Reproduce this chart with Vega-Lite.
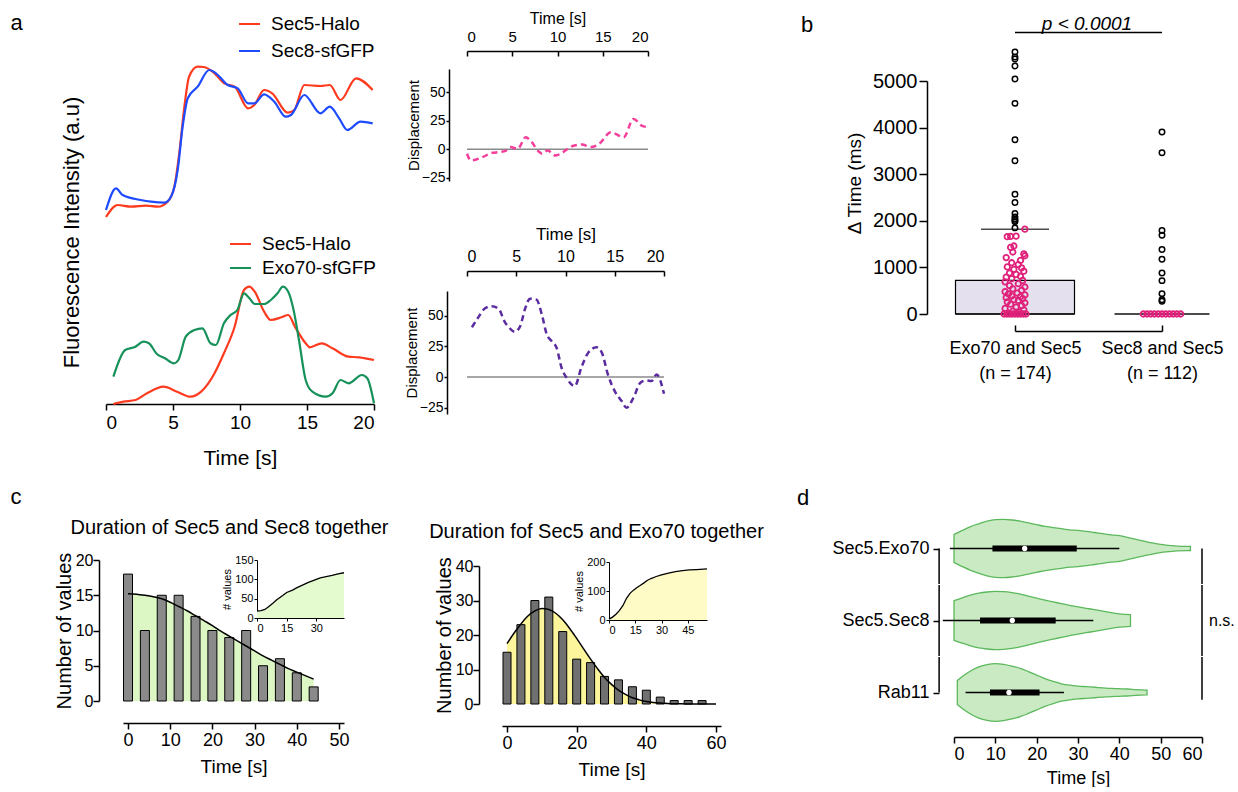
{
"$schema":"https://vega.github.io/schema/vega-lite/v6.json",
"padding":{"left":10,"top":10,"right":0,"bottom":0},
"config":{"font":"Liberation Sans","view":{"stroke":null},
 "axis":{"grid":false,"labelOverlap":false,"domainColor":"#000","tickColor":"#000","labelColor":"#000","titleColor":"#000","titleFontWeight":"normal","domainWidth":1.5,"tickWidth":1.5,"labelFont":"Liberation Sans","titleFont":"Liberation Sans"},
 "title":{"fontWeight":"normal","color":"#000","font":"Liberation Sans"},
 "legend":{"labelFont":"Liberation Sans","labelColor":"#000"}},
"datasets":{
 "viol":[
{"g":"Sec5.Exo70","t":0,"w":0.48,"lo":-0.48},{"g":"Sec5.Exo70","t":2,"w":0.62,"lo":-0.62},{"g":"Sec5.Exo70","t":4,"w":0.75,"lo":-0.75},{"g":"Sec5.Exo70","t":6,"w":0.85,"lo":-0.85},{"g":"Sec5.Exo70","t":8,"w":0.94,"lo":-0.94},{"g":"Sec5.Exo70","t":10,"w":0.99,"lo":-0.99},{"g":"Sec5.Exo70","t":12,"w":1.0,"lo":-1.0},{"g":"Sec5.Exo70","t":14,"w":0.98,"lo":-0.98},{"g":"Sec5.Exo70","t":16,"w":0.94,"lo":-0.94},{"g":"Sec5.Exo70","t":18,"w":0.88,"lo":-0.88},{"g":"Sec5.Exo70","t":20,"w":0.82,"lo":-0.82},{"g":"Sec5.Exo70","t":22,"w":0.76,"lo":-0.76},{"g":"Sec5.Exo70","t":24,"w":0.72,"lo":-0.72},{"g":"Sec5.Exo70","t":26,"w":0.68,"lo":-0.68},{"g":"Sec5.Exo70","t":28,"w":0.64,"lo":-0.64},{"g":"Sec5.Exo70","t":30,"w":0.62,"lo":-0.62},{"g":"Sec5.Exo70","t":32,"w":0.59,"lo":-0.59},{"g":"Sec5.Exo70","t":34,"w":0.55,"lo":-0.55},{"g":"Sec5.Exo70","t":36,"w":0.51,"lo":-0.51},{"g":"Sec5.Exo70","t":38,"w":0.47,"lo":-0.47},{"g":"Sec5.Exo70","t":40,"w":0.44,"lo":-0.44},{"g":"Sec5.Exo70","t":42,"w":0.38,"lo":-0.38},{"g":"Sec5.Exo70","t":44,"w":0.31,"lo":-0.31},{"g":"Sec5.Exo70","t":46,"w":0.25,"lo":-0.25},{"g":"Sec5.Exo70","t":48,"w":0.19,"lo":-0.19},{"g":"Sec5.Exo70","t":50,"w":0.14,"lo":-0.14},{"g":"Sec5.Exo70","t":52,"w":0.11,"lo":-0.11},{"g":"Sec5.Exo70","t":54,"w":0.08,"lo":-0.08},{"g":"Sec5.Exo70","t":56,"w":0.07,"lo":-0.07},{"g":"Sec5.Exo70","t":57.2,"w":0.07,"lo":-0.07},
{"g":"Sec5.Sec8","t":0,"w":0.68,"lo":-0.68},{"g":"Sec5.Sec8","t":2,"w":0.78,"lo":-0.78},{"g":"Sec5.Sec8","t":4,"w":0.87,"lo":-0.87},{"g":"Sec5.Sec8","t":6,"w":0.94,"lo":-0.94},{"g":"Sec5.Sec8","t":8,"w":0.98,"lo":-0.98},{"g":"Sec5.Sec8","t":10,"w":1.0,"lo":-1.0},{"g":"Sec5.Sec8","t":12,"w":0.99,"lo":-0.99},{"g":"Sec5.Sec8","t":14,"w":0.96,"lo":-0.96},{"g":"Sec5.Sec8","t":16,"w":0.91,"lo":-0.91},{"g":"Sec5.Sec8","t":18,"w":0.84,"lo":-0.84},{"g":"Sec5.Sec8","t":20,"w":0.77,"lo":-0.77},{"g":"Sec5.Sec8","t":22,"w":0.70,"lo":-0.70},{"g":"Sec5.Sec8","t":24,"w":0.64,"lo":-0.64},{"g":"Sec5.Sec8","t":26,"w":0.58,"lo":-0.58},{"g":"Sec5.Sec8","t":28,"w":0.52,"lo":-0.52},{"g":"Sec5.Sec8","t":30,"w":0.47,"lo":-0.47},{"g":"Sec5.Sec8","t":32,"w":0.42,"lo":-0.42},{"g":"Sec5.Sec8","t":34,"w":0.37,"lo":-0.37},{"g":"Sec5.Sec8","t":36,"w":0.32,"lo":-0.32},{"g":"Sec5.Sec8","t":38,"w":0.27,"lo":-0.27},{"g":"Sec5.Sec8","t":40,"w":0.23,"lo":-0.23},{"g":"Sec5.Sec8","t":42.7,"w":0.2,"lo":-0.2},
{"g":"Rab11","t":0.8,"w":0.41,"lo":-0.41},{"g":"Rab11","t":2,"w":0.55,"lo":-0.55},{"g":"Rab11","t":4,"w":0.74,"lo":-0.74},{"g":"Rab11","t":6,"w":0.88,"lo":-0.88},{"g":"Rab11","t":8,"w":0.96,"lo":-0.96},{"g":"Rab11","t":10,"w":0.99,"lo":-0.99},{"g":"Rab11","t":12,"w":0.97,"lo":-0.97},{"g":"Rab11","t":14,"w":0.91,"lo":-0.91},{"g":"Rab11","t":16,"w":0.83,"lo":-0.83},{"g":"Rab11","t":18,"w":0.72,"lo":-0.72},{"g":"Rab11","t":20,"w":0.60,"lo":-0.60},{"g":"Rab11","t":22,"w":0.48,"lo":-0.48},{"g":"Rab11","t":24,"w":0.38,"lo":-0.38},{"g":"Rab11","t":26,"w":0.30,"lo":-0.30},{"g":"Rab11","t":28,"w":0.25,"lo":-0.25},{"g":"Rab11","t":30,"w":0.22,"lo":-0.22},{"g":"Rab11","t":32,"w":0.20,"lo":-0.20},{"g":"Rab11","t":34,"w":0.18,"lo":-0.18},{"g":"Rab11","t":36,"w":0.16,"lo":-0.16},{"g":"Rab11","t":38,"w":0.14,"lo":-0.14},{"g":"Rab11","t":40,"w":0.13,"lo":-0.13},{"g":"Rab11","t":42,"w":0.12,"lo":-0.12},{"g":"Rab11","t":44,"w":0.10,"lo":-0.10},{"g":"Rab11","t":46.7,"w":0.08,"lo":-0.08}],
 "dstat":[
{"g":"Sec5.Exo70","mn":-1,"q1":9.3,"md":17.1,"q3":29.7,"mx":40},
{"g":"Sec5.Sec8","mn":-2.7,"q1":6.3,"md":14.1,"q3":24.6,"mx":33.7},
{"g":"Rab11","mn":2.8,"q1":8.7,"md":13.3,"q3":20.7,"mx":26.6}],
 "fit1":[{"x":0,"f":15.2},{"x":2,"f":15.15},{"x":4,"f":15.0},{"x":6,"f":14.8},{"x":8,"f":14.5},{"x":10,"f":14.0},{"x":12,"f":13.4},{"x":14,"f":12.8},{"x":16,"f":12.1},{"x":18,"f":11.4},{"x":20,"f":10.7},{"x":22,"f":9.9},{"x":24,"f":9.2},{"x":26,"f":8.5},{"x":28,"f":7.8},{"x":30,"f":7.1},{"x":32,"f":6.4},{"x":34,"f":5.8},{"x":36,"f":5.2},{"x":38,"f":4.6},{"x":40,"f":4.1},{"x":42,"f":3.6},{"x":44,"f":3.1}],
 "fit2":[{"x":0,"f":17.5},{"x":2,"f":20.5},{"x":4,"f":23.2},{"x":6,"f":25.5},{"x":8,"f":27.0},{"x":10,"f":27.7},{"x":12,"f":27.4},{"x":14,"f":26.3},{"x":16,"f":24.4},{"x":18,"f":21.9},{"x":20,"f":19.0},{"x":22,"f":16.0},{"x":24,"f":13.0},{"x":26,"f":10.2},{"x":28,"f":7.7},{"x":30,"f":5.7},{"x":32,"f":4.0},{"x":34,"f":2.8},{"x":36,"f":1.8},{"x":38,"f":1.2},{"x":40,"f":0.74},{"x":42,"f":0.44},{"x":44,"f":0.26},{"x":46,"f":0.15},{"x":48,"f":0.08},{"x":50,"f":0.04},{"x":54,"f":0.01},{"x":60,"f":0}]
},
"spacing":17,
"resolve":{"scale":{"color":"independent"}},
"vconcat":[
{"spacing":37,"resolve":{"scale":{"color":"independent"}},"hconcat":[
 {"width":1,"height":1,"data":{"values":[{"l":"a"}]},"mark":{"type":"text","align":"left","baseline":"top","fontSize":22,"color":"#000"},"encoding":{"text":{"field":"l","type":"nominal"}}},
 {"spacing":25,"resolve":{"scale":{"color":"independent"}},"hconcat":[
  {"spacing":-1,"resolve":{"scale":{"color":"independent"}},"vconcat":[
   {"width":1,"height":1,"data":{"values":[{}]},"mark":{"type":"point","opacity":0,"size":1},"encoding":{}},
   {"width":268,"height":344,
    "layer":[
     {"data":{"values":[
{"t":0,"v":187,"s":"Sec5-Halo"},{"t":0.87,"v":199,"s":"Sec5-Halo"},{"t":1.87,"v":197.3,"s":"Sec5-Halo"},{"t":3.0,"v":198.3,"s":"Sec5-Halo"},{"t":3.86,"v":197.3,"s":"Sec5-Halo"},{"t":4.6,"v":202.3,"s":"Sec5-Halo"},{"t":5.1,"v":217.3,"s":"Sec5-Halo"},{"t":5.47,"v":251,"s":"Sec5-Halo"},{"t":5.85,"v":297.3,"s":"Sec5-Halo"},{"t":6.2,"v":327.3,"s":"Sec5-Halo"},{"t":6.84,"v":337.3,"s":"Sec5-Halo"},{"t":7.3,"v":337,"s":"Sec5-Halo"},{"t":8.1,"v":330.7,"s":"Sec5-Halo"},{"t":8.83,"v":320.7,"s":"Sec5-Halo"},{"t":9.6,"v":317.3,"s":"Sec5-Halo"},{"t":10.6,"v":295.7,"s":"Sec5-Halo"},{"t":11.07,"v":299,"s":"Sec5-Halo"},{"t":11.8,"v":314,"s":"Sec5-Halo"},{"t":12.4,"v":310.7,"s":"Sec5-Halo"},{"t":13.56,"v":291.3,"s":"Sec5-Halo"},{"t":14.05,"v":294,"s":"Sec5-Halo"},{"t":14.8,"v":319,"s":"Sec5-Halo"},{"t":16.0,"v":318,"s":"Sec5-Halo"},{"t":16.7,"v":319,"s":"Sec5-Halo"},{"t":17.5,"v":304,"s":"Sec5-Halo"},{"t":18.66,"v":325.7,"s":"Sec5-Halo"},{"t":19.9,"v":314,"s":"Sec5-Halo"},
{"t":0,"v":194,"s":"Sec8-sfGFP"},{"t":0.75,"v":215.7,"s":"Sec8-sfGFP"},{"t":1.24,"v":209,"s":"Sec8-sfGFP"},{"t":2.6,"v":204,"s":"Sec8-sfGFP"},{"t":3.36,"v":202.3,"s":"Sec8-sfGFP"},{"t":4.35,"v":201.3,"s":"Sec8-sfGFP"},{"t":4.85,"v":207.3,"s":"Sec8-sfGFP"},{"t":5.35,"v":234,"s":"Sec8-sfGFP"},{"t":5.72,"v":277.3,"s":"Sec8-sfGFP"},{"t":6.1,"v":305.7,"s":"Sec8-sfGFP"},{"t":6.84,"v":317.3,"s":"Sec8-sfGFP"},{"t":7.7,"v":334,"s":"Sec8-sfGFP"},{"t":8.2,"v":330.7,"s":"Sec8-sfGFP"},{"t":9.08,"v":319,"s":"Sec8-sfGFP"},{"t":9.83,"v":315.7,"s":"Sec8-sfGFP"},{"t":10.6,"v":300.7,"s":"Sec8-sfGFP"},{"t":11.07,"v":300.7,"s":"Sec8-sfGFP"},{"t":11.8,"v":309.7,"s":"Sec8-sfGFP"},{"t":12.56,"v":302.3,"s":"Sec8-sfGFP"},{"t":13.4,"v":287.3,"s":"Sec8-sfGFP"},{"t":13.8,"v":289,"s":"Sec8-sfGFP"},{"t":14.8,"v":309,"s":"Sec8-sfGFP"},{"t":16.0,"v":290.7,"s":"Sec8-sfGFP"},{"t":16.7,"v":297.3,"s":"Sec8-sfGFP"},{"t":17.4,"v":285.7,"s":"Sec8-sfGFP"},{"t":18.0,"v":274,"s":"Sec8-sfGFP"},{"t":19.0,"v":282.3,"s":"Sec8-sfGFP"},{"t":19.9,"v":280.7,"s":"Sec8-sfGFP"}]},
      "mark":{"type":"line","interpolate":"monotone","strokeWidth":2.2},
      "encoding":{
       "x":{"field":"t","type":"quantitative","scale":{"domain":[0,20],"nice":false},"axis":{"values":[0,5,10,15,20],"tickSize":6,"labelFontSize":19,"labelPadding":3,"title":"Time [s]","titleFontSize":21,"titlePadding":15}},
       "y":{"field":"v","type":"quantitative","scale":{"domain":[0,344],"nice":false},"axis":{"title":"Fluorescence Intensity (a.u)","titleFontSize":22,"domain":false,"ticks":false,"labels":false,"titlePadding":23}},
       "color":{"field":"s","type":"nominal","scale":{"domain":["Sec5-Halo","Sec8-sfGFP"],"range":["#ff3b1f","#1f4bff"]},"legend":{"title":null,"orient":"none","legendX":132,"legendY":-47.5,"symbolType":"stroke","symbolSize":441,"symbolStrokeWidth":2,"labelFontSize":19,"labelOffset":10,"rowPadding":5,"padding":0}}}},
     {"data":{"values":[
{"t":0.55,"v":0,"s":"Sec5-Halo"},{"t":1.3,"v":2.3,"s":"Sec5-Halo"},{"t":2.2,"v":4,"s":"Sec5-Halo"},{"t":3.06,"v":10.7,"s":"Sec5-Halo"},{"t":4.3,"v":17.3,"s":"Sec5-Halo"},{"t":5.3,"v":12.3,"s":"Sec5-Halo"},{"t":6.3,"v":7.3,"s":"Sec5-Halo"},{"t":7.1,"v":12.3,"s":"Sec5-Halo"},{"t":8.1,"v":30.7,"s":"Sec5-Halo"},{"t":8.8,"v":50.7,"s":"Sec5-Halo"},{"t":9.6,"v":77.3,"s":"Sec5-Halo"},{"t":10.3,"v":114,"s":"Sec5-Halo"},{"t":10.7,"v":117.3,"s":"Sec5-Halo"},{"t":11.1,"v":112.3,"s":"Sec5-Halo"},{"t":11.8,"v":92.3,"s":"Sec5-Halo"},{"t":12.3,"v":84,"s":"Sec5-Halo"},{"t":13.1,"v":86.7,"s":"Sec5-Halo"},{"t":13.6,"v":89,"s":"Sec5-Halo"},{"t":14.1,"v":77.3,"s":"Sec5-Halo"},{"t":14.9,"v":60.7,"s":"Sec5-Halo"},{"t":15.2,"v":56.7,"s":"Sec5-Halo"},{"t":16.1,"v":60.7,"s":"Sec5-Halo"},{"t":16.9,"v":55.7,"s":"Sec5-Halo"},{"t":18.1,"v":47.3,"s":"Sec5-Halo"},{"t":18.9,"v":46.7,"s":"Sec5-Halo"},{"t":20,"v":44,"s":"Sec5-Halo"},
{"t":0.55,"v":27.3,"s":"Exo70-sfGFP"},{"t":1.43,"v":54,"s":"Exo70-sfGFP"},{"t":2.2,"v":57.3,"s":"Exo70-sfGFP"},{"t":2.8,"v":62.3,"s":"Exo70-sfGFP"},{"t":3.2,"v":60.7,"s":"Exo70-sfGFP"},{"t":3.8,"v":50,"s":"Exo70-sfGFP"},{"t":4.4,"v":45.7,"s":"Exo70-sfGFP"},{"t":5.07,"v":40.7,"s":"Exo70-sfGFP"},{"t":5.4,"v":44,"s":"Exo70-sfGFP"},{"t":5.95,"v":67.3,"s":"Exo70-sfGFP"},{"t":6.6,"v":74,"s":"Exo70-sfGFP"},{"t":7.2,"v":75.7,"s":"Exo70-sfGFP"},{"t":7.8,"v":60.7,"s":"Exo70-sfGFP"},{"t":8.2,"v":59,"s":"Exo70-sfGFP"},{"t":8.8,"v":80.7,"s":"Exo70-sfGFP"},{"t":9.3,"v":89,"s":"Exo70-sfGFP"},{"t":9.8,"v":94,"s":"Exo70-sfGFP"},{"t":10.3,"v":110.7,"s":"Exo70-sfGFP"},{"t":10.7,"v":105.7,"s":"Exo70-sfGFP"},{"t":11.1,"v":100,"s":"Exo70-sfGFP"},{"t":11.8,"v":100,"s":"Exo70-sfGFP"},{"t":12.3,"v":104,"s":"Exo70-sfGFP"},{"t":12.8,"v":110.7,"s":"Exo70-sfGFP"},{"t":13.2,"v":117.3,"s":"Exo70-sfGFP"},{"t":13.6,"v":112.3,"s":"Exo70-sfGFP"},{"t":14.0,"v":94,"s":"Exo70-sfGFP"},{"t":14.4,"v":64,"s":"Exo70-sfGFP"},{"t":14.9,"v":24,"s":"Exo70-sfGFP"},{"t":15.4,"v":12.3,"s":"Exo70-sfGFP"},{"t":16.4,"v":7.3,"s":"Exo70-sfGFP"},{"t":16.9,"v":10.7,"s":"Exo70-sfGFP"},{"t":17.5,"v":24,"s":"Exo70-sfGFP"},{"t":18.1,"v":20.7,"s":"Exo70-sfGFP"},{"t":19.1,"v":29,"s":"Exo70-sfGFP"},{"t":19.5,"v":25.7,"s":"Exo70-sfGFP"},{"t":20,"v":0.7,"s":"Exo70-sfGFP"}]},
      "mark":{"type":"line","interpolate":"monotone","strokeWidth":2.2},
      "encoding":{
       "x":{"field":"t","type":"quantitative"},
       "y":{"field":"v","type":"quantitative"},
       "color":{"field":"s","type":"nominal","scale":{"domain":["Sec5-Halo","Exo70-sfGFP"],"range":["#ff3b1f","#16915a"]},"legend":{"title":null,"orient":"none","legendX":123,"legendY":172.5,"symbolType":"stroke","symbolSize":441,"symbolStrokeWidth":2,"labelFontSize":19,"labelOffset":10,"rowPadding":2,"padding":0}}}}
    ],
    "resolve":{"scale":{"color":"independent"}}}
  ]},
  {"spacing":132,"hconcat":[
   {"spacing":-3,"vconcat":[
    {"width":1,"height":1,"data":{"values":[{}]},"mark":{"type":"point","opacity":0,"size":1},"encoding":{}},
    {"spacing":40,"vconcat":[
     {"width":181,"height":112,
      "layer":[
       {"data":{"values":[{}]},"mark":{"type":"rule","color":"#8a8a8a","strokeWidth":1.5},"encoding":{"x":{"datum":0},"x2":{"datum":20},"y":{"datum":0,"axis":{"orient":"left","offset":18,"values":[0,50],"domain":false,"tickSize":3,"labelFontSize":14,"labelPadding":1,"title":null}}}},
       {"data":{"values":[{"t":0,"d":-4},{"t":0.44,"d":-10},{"t":1.7,"d":-7},{"t":2.8,"d":-3.2},{"t":3.6,"d":-2.6},{"t":4.3,"d":-1.2},{"t":4.8,"d":1.8},{"t":5.6,"d":0.3},{"t":6.5,"d":10.5},{"t":7.0,"d":7.6},{"t":8.0,"d":-2.6},{"t":8.3,"d":-4},{"t":8.9,"d":-1.2},{"t":9.8,"d":-5.6},{"t":10.5,"d":-3.2},{"t":11.6,"d":2.6},{"t":12.7,"d":4.1},{"t":13.7,"d":1.8},{"t":14.6,"d":4.7},{"t":15.9,"d":14.9},{"t":16.4,"d":13.5},{"t":17.3,"d":10.5},{"t":18.4,"d":26.6},{"t":19.3,"d":20.8},{"t":20,"d":19.3}]},
        "mark":{"type":"line","interpolate":"monotone","strokeDash":[6,4],"strokeWidth":2.5,"color":"#f23f9b"},
        "encoding":{
         "x":{"field":"t","type":"quantitative","scale":{"domain":[0,20],"nice":false},"axis":{"orient":"top","offset":18,"values":[0,2.5,5,7.5,10,12.5,15,17.5,20],"labelExpr":"datum.value % 5 == 0 ? datum.label : ''","tickSize":-5,"labelPadding":12,"labelFontSize":15,"title":"Time [s]","titleFontSize":16,"titlePadding":3}},
         "y":{"field":"d","type":"quantitative","scale":{"domain":[-28,70.5],"nice":false},"axis":{"orient":"left","offset":18,"values":[-25,25],"tickSize":3,"labelFontSize":14,"labelPadding":1,"title":"Displacement","titleFontSize":15,"titlePadding":0}}}}
      ],
      "resolve":{"axis":{"y":"independent"}}},
     {"width":197,"height":123,
      "layer":[
       {"data":{"values":[{}]},"mark":{"type":"rule","color":"#8a8a8a","strokeWidth":1.5},"encoding":{"x":{"datum":0},"x2":{"datum":20},"y":{"datum":0}}},
       {"data":{"values":[{"t":0.5,"d":40.5},{"t":1.1,"d":48},{"t":1.8,"d":55.7},{"t":2.5,"d":57.6},{"t":3.2,"d":55.7},{"t":3.8,"d":45.4},{"t":4.3,"d":40},{"t":4.85,"d":36.8},{"t":5.4,"d":41.4},{"t":5.9,"d":55.7},{"t":6.4,"d":63.8},{"t":7.05,"d":63},{"t":7.6,"d":50.8},{"t":8.1,"d":34.6},{"t":8.6,"d":29.2},{"t":9.1,"d":23.8},{"t":9.6,"d":7.6},{"t":10.1,"d":-0.5},{"t":10.95,"d":-7.3},{"t":11.6,"d":7.6},{"t":12.3,"d":19.7},{"t":13.15,"d":24.3},{"t":13.7,"d":19.7},{"t":14.3,"d":2.2},{"t":15.0,"d":-11.4},{"t":15.7,"d":-19.5},{"t":16.2,"d":-24.9},{"t":16.9,"d":-16.8},{"t":17.6,"d":-4.6},{"t":18.2,"d":-2.7},{"t":18.75,"d":-3.2},{"t":19.25,"d":2.2},{"t":20,"d":-13.5}]},
        "mark":{"type":"line","interpolate":"monotone","strokeDash":[6,4],"strokeWidth":2.5,"color":"#5a2ca0"},
        "encoding":{
         "x":{"field":"t","type":"quantitative","scale":{"domain":[0,20],"nice":false},"axis":{"orient":"top","offset":20,"values":[0,2.5,5,7.5,10,12.5,15,17.5,20],"labelExpr":"datum.value % 5 == 0 ? datum.label : ''","tickSize":-5,"labelPadding":12,"labelFontSize":16,"title":"Time [s]","titleFontSize":17,"titlePadding":5}},
         "y":{"field":"d","type":"quantitative","scale":{"domain":[-30,70],"nice":false},"axis":{"offset":20,"values":[-25,0,25,50],"tickSize":3,"labelFontSize":14,"labelPadding":1,"title":"Displacement","titleFontSize":15,"titlePadding":0}}}}
      ]}
    ]}
   ]},
   {"spacing":0,"vconcat":[
    {"width":1,"height":1,"data":{"values":[{}]},"mark":{"type":"point","opacity":0,"size":1},"encoding":{}},
    {"title":{"text":"b","orient":"left","anchor":"end","angle":0,"align":"right","baseline":"top","fontSize":22,"offset":20},
     "hconcat":[
     {"width":290,"height":233,
      "title":{"text":"p < 0.0001","fontStyle":"italic","fontSize":19,"anchor":"middle","frame":"group","dx":15,"offset":-2},
      "layer":[
       {"data":{"values":[{"cat":"Exo70 and Sec5","q1":0,"q3":720}]},
        "mark":{"type":"bar","size":119,"fill":"#e4e0ee","stroke":"#000","strokeWidth":1.2},
        "encoding":{
         "x":{"field":"cat","type":"nominal","scale":{"type":"point","padding":0,"domain":["Exo70 and Sec5","Sec8 and Sec5"],"range":[88,235]},"axis":{"orient":"bottom","offset":17,"tickSize":-6,"labelFontSize":18,"labelLineHeight":25,"labelPadding":14,"labelAngle":0,"title":null,"labelExpr":"datum.value == 'Exo70 and Sec5' ? ['Exo70 and Sec5', '(n = 174)'] : ['Sec8 and Sec5', '(n = 112)']"}},
         "y":{"field":"q1","type":"quantitative","scale":{"domain":[0,5000],"nice":false},"axis":{"values":[0,1000,2000,3000,4000,5000],"format":"d","tickSize":8,"labelFontSize":20,"labelPadding":2,"title":"Δ Time (ms)","titleFontSize":19,"titlePadding":8,"titleY":102}},
         "y2":{"field":"q3"}}},
       {"data":{"values":[{}]},"mark":{"type":"rule","strokeWidth":1.5,"color":"#000"},"encoding":{"x":{"datum":"Exo70 and Sec5"},"x2":{"datum":"Sec8 and Sec5"},"y":{"datum":6040}}},
       {"data":{"values":[{"cat":"Exo70 and Sec5","w":1820}]},"mark":{"type":"tick","size":68,"thickness":1.5,"color":"#000"},"encoding":{"x":{"field":"cat","type":"nominal"},"y":{"field":"w","type":"quantitative"}}},
       {"data":{"values":[{"cat":"Exo70 and Sec5","m":0}]},"mark":{"type":"tick","size":119,"thickness":2,"color":"#000"},"encoding":{"x":{"field":"cat","type":"nominal"},"y":{"field":"m","type":"quantitative"}}},
       {"data":{"values":[{"cat":"Sec8 and Sec5","m":0}]},"mark":{"type":"tick","size":95,"thickness":2,"color":"#000"},"encoding":{"x":{"field":"cat","type":"nominal"},"y":{"field":"m","type":"quantitative"}}},
       {"data":{"values":[
{"cat":"Exo70 and Sec5","v":0,"j":-1},{"cat":"Exo70 and Sec5","v":0,"j":-0.75},{"cat":"Exo70 and Sec5","v":0,"j":-0.5},{"cat":"Exo70 and Sec5","v":0,"j":-0.25},{"cat":"Exo70 and Sec5","v":0,"j":0},{"cat":"Exo70 and Sec5","v":0,"j":0.25},{"cat":"Exo70 and Sec5","v":0,"j":0.5},{"cat":"Exo70 and Sec5","v":0,"j":0.75},{"cat":"Exo70 and Sec5","v":0,"j":1},
{"cat":"Exo70 and Sec5","v":20,"j":-0.6},{"cat":"Exo70 and Sec5","v":40,"j":0.4},{"cat":"Exo70 and Sec5","v":60,"j":-0.2},{"cat":"Exo70 and Sec5","v":90,"j":0.8},{"cat":"Exo70 and Sec5","v":120,"j":-0.9},{"cat":"Exo70 and Sec5","v":150,"j":0.1},{"cat":"Exo70 and Sec5","v":180,"j":0.6},{"cat":"Exo70 and Sec5","v":210,"j":-0.4},{"cat":"Exo70 and Sec5","v":240,"j":0.9},{"cat":"Exo70 and Sec5","v":260,"j":-0.7},{"cat":"Exo70 and Sec5","v":290,"j":0.3},{"cat":"Exo70 and Sec5","v":310,"j":-0.1},{"cat":"Exo70 and Sec5","v":330,"j":0.7},{"cat":"Exo70 and Sec5","v":350,"j":-0.8},{"cat":"Exo70 and Sec5","v":370,"j":0.5},{"cat":"Exo70 and Sec5","v":390,"j":-0.3},{"cat":"Exo70 and Sec5","v":410,"j":0.9},{"cat":"Exo70 and Sec5","v":430,"j":-0.6},{"cat":"Exo70 and Sec5","v":450,"j":0.2},{"cat":"Exo70 and Sec5","v":480,"j":-0.9},{"cat":"Exo70 and Sec5","v":510,"j":0.6},{"cat":"Exo70 and Sec5","v":540,"j":-0.2},{"cat":"Exo70 and Sec5","v":580,"j":0.9},{"cat":"Exo70 and Sec5","v":610,"j":-0.5},{"cat":"Exo70 and Sec5","v":650,"j":0.3},{"cat":"Exo70 and Sec5","v":690,"j":-0.9},{"cat":"Exo70 and Sec5","v":720,"j":0.7},{"cat":"Exo70 and Sec5","v":760,"j":-0.3},{"cat":"Exo70 and Sec5","v":790,"j":-0.8},{"cat":"Exo70 and Sec5","v":810,"j":0.5},{"cat":"Exo70 and Sec5","v":850,"j":0.1},{"cat":"Exo70 and Sec5","v":880,"j":-0.5},{"cat":"Exo70 and Sec5","v":920,"j":0.8},{"cat":"Exo70 and Sec5","v":960,"j":-0.1},{"cat":"Exo70 and Sec5","v":990,"j":0.6},{"cat":"Exo70 and Sec5","v":1010,"j":-0.7},{"cat":"Exo70 and Sec5","v":1060,"j":0.3},{"cat":"Exo70 and Sec5","v":1100,"j":-0.3},{"cat":"Exo70 and Sec5","v":1150,"j":0.5},{"cat":"Exo70 and Sec5","v":1210,"j":-0.8},{"cat":"Exo70 and Sec5","v":1250,"j":0.9},{"cat":"Exo70 and Sec5","v":1290,"j":0.8},{"cat":"Exo70 and Sec5","v":1330,"j":-0.2},{"cat":"Exo70 and Sec5","v":1430,"j":-0.4},{"cat":"Exo70 and Sec5","v":1460,"j":-0.1},{"cat":"Exo70 and Sec5","v":1660,"j":-0.7},{"cat":"Exo70 and Sec5","v":1665,"j":-0.4},{"cat":"Exo70 and Sec5","v":1670,"j":0.1},{"cat":"Exo70 and Sec5","v":1820,"j":0.9},
{"cat":"Sec8 and Sec5","v":0,"j":-1.7},{"cat":"Sec8 and Sec5","v":0,"j":-1.36},{"cat":"Sec8 and Sec5","v":0,"j":-1.02},{"cat":"Sec8 and Sec5","v":0,"j":-0.68},{"cat":"Sec8 and Sec5","v":0,"j":-0.34},{"cat":"Sec8 and Sec5","v":0,"j":0},{"cat":"Sec8 and Sec5","v":0,"j":0.34},{"cat":"Sec8 and Sec5","v":0,"j":0.68},{"cat":"Sec8 and Sec5","v":0,"j":1.02},{"cat":"Sec8 and Sec5","v":0,"j":1.36},{"cat":"Sec8 and Sec5","v":0,"j":1.7}]},
        "mark":{"type":"point","filled":false,"color":"#e0207a","strokeWidth":1.8,"size":30,"opacity":1},
        "encoding":{"x":{"field":"cat","type":"nominal"},"xOffset":{"field":"j","type":"quantitative","scale":{"domain":[-1,1],"range":[-11,11]}},"y":{"field":"v","type":"quantitative"}}},
       {"data":{"values":[
{"cat":"Exo70 and Sec5","v":5623},{"cat":"Exo70 and Sec5","v":5516},{"cat":"Exo70 and Sec5","v":5470},{"cat":"Exo70 and Sec5","v":5322},{"cat":"Exo70 and Sec5","v":5043},{"cat":"Exo70 and Sec5","v":4520},{"cat":"Exo70 and Sec5","v":3739},{"cat":"Exo70 and Sec5","v":3288},{"cat":"Exo70 and Sec5","v":2572},{"cat":"Exo70 and Sec5","v":2393},{"cat":"Exo70 and Sec5","v":2156},{"cat":"Exo70 and Sec5","v":2080},{"cat":"Exo70 and Sec5","v":2040},{"cat":"Exo70 and Sec5","v":2006},{"cat":"Exo70 and Sec5","v":1980},{"cat":"Exo70 and Sec5","v":1848},
{"cat":"Sec8 and Sec5","v":3904},{"cat":"Sec8 and Sec5","v":3460},{"cat":"Sec8 and Sec5","v":1791},{"cat":"Sec8 and Sec5","v":1690},{"cat":"Sec8 and Sec5","v":1383},{"cat":"Sec8 and Sec5","v":1175},{"cat":"Sec8 and Sec5","v":881},{"cat":"Sec8 and Sec5","v":716},{"cat":"Sec8 and Sec5","v":437},{"cat":"Sec8 and Sec5","v":308},{"cat":"Sec8 and Sec5","v":272}]},
        "mark":{"type":"point","filled":false,"color":"#000","strokeWidth":1.5,"size":30,"opacity":1},
        "encoding":{"x":{"field":"cat","type":"nominal"},"y":{"field":"v","type":"quantitative"}}}
      ]}
    ]}
   ]}
  ]}
 ]}
]},
{"spacing":32,"hconcat":[
 {"width":1,"height":1,"data":{"values":[{"l":"c"}]},"mark":{"type":"text","align":"left","baseline":"top","fontSize":22,"color":"#000"},"encoding":{"text":{"field":"l","type":"nominal"}}},
 {"spacing":40,"hconcat":[
  {"spacing":31,"vconcat":[
   {"width":1,"height":1,"data":{"values":[{}]},"mark":{"type":"point","opacity":0,"size":1},"encoding":{}},
   {"width":221,"height":141,
    "title":{"text":"Duration of Sec5 and Sec8 together","fontSize":20,"offset":14,"dx":-4,"anchor":"middle","frame":"group"},
    "layer":[
     {"layer":[
      {"data":{"name":"fit1"},
       "mark":{"type":"area","color":"#dcf7c3","interpolate":"monotone"},
       "encoding":{"x":{"field":"x","type":"quantitative","scale":{"domain":[0,50],"nice":false},"axis":{"offset":22,"values":[0,10,20,30,40,50],"tickSize":6,"labelFontSize":18,"title":"Time [s]","titleFontSize":19,"titlePadding":8}},
        "y":{"field":"f","type":"quantitative","scale":{"domain":[0,20],"nice":false},"axis":{"orient":"left","offset":24,"values":[0,10,20],"tickSize":6,"labelFontSize":16,"labelPadding":0,"title":"Number of values","titleFontSize":20,"titlePadding":1}}}},
      {"data":{"values":[{"t":0,"n":18},{"t":4,"n":10},{"t":8,"n":15},{"t":12,"n":15},{"t":16,"n":12},{"t":20,"n":10},{"t":24,"n":9},{"t":28,"n":10},{"t":32,"n":5},{"t":36,"n":6},{"t":40,"n":4},{"t":44,"n":2}]},
       "mark":{"type":"bar","size":9,"fill":"#8a8a8a","stroke":"#000","strokeWidth":1},
       "encoding":{"x":{"field":"t","type":"quantitative"},"y":{"field":"n","type":"quantitative","axis":{"orient":"left","offset":24,"values":[5,15],"domain":false,"tickSize":6,"labelFontSize":16,"labelPadding":0,"title":null}}}},
      {"data":{"name":"fit1"},
       "mark":{"type":"line","color":"#000","strokeWidth":1.5,"interpolate":"monotone"},
       "encoding":{"x":{"field":"x","type":"quantitative"},"y":{"field":"f","type":"quantitative","axis":null}}}
     ],
     "resolve":{"axis":{"y":"independent"}}},
     {"data":{"values":[{"ct":0,"cv":18},{"ct":2,"cv":19},{"ct":4,"cv":22},{"ct":6,"cv":30},{"ct":8,"cv":38},{"ct":10,"cv":47},{"ct":13,"cv":58},{"ct":15,"cv":66},{"ct":18,"cv":72},{"ct":20,"cv":78},{"ct":23,"cv":85},{"ct":26,"cv":92},{"ct":29,"cv":98},{"ct":32,"cv":104},{"ct":35,"cv":107},{"ct":38,"cv":110},{"ct":41,"cv":114},{"ct":44,"cv":117}]},
      "layer":[
       {"mark":{"type":"area","color":"#e4fbcf"},
        "encoding":{"x":{"field":"ct","type":"quantitative","scale":{"domain":[0,44],"range":[134,221],"nice":false},"axis":{"orient":"bottom","offset":-83,"values":[0,15,30],"labelFontSize":11,"tickSize":3,"tickWidth":1,"domainWidth":1,"labelPadding":1,"title":null}},
         "y":{"field":"cv","type":"quantitative","scale":{"domain":[0,150],"range":[58,0],"nice":false},"axis":{"orient":"left","offset":-134,"values":[0,50,100,150],"labelFontSize":11,"tickSize":3,"tickWidth":1,"domainWidth":1,"labelPadding":1,"title":"# values","titleFontSize":11,"titlePadding":2}}}},
       {"mark":{"type":"line","color":"#000","strokeWidth":1.3},
        "encoding":{"x":{"field":"ct","type":"quantitative"},"y":{"field":"cv","type":"quantitative"}}}
      ]}
    ],
    "resolve":{"scale":{"x":"independent","y":"independent"},"axis":{"x":"independent","y":"independent"}}}
  ]},
  {"spacing":32,"hconcat":[
   {"spacing":35,"vconcat":[
    {"width":1,"height":1,"data":{"values":[{}]},"mark":{"type":"point","opacity":0,"size":1},"encoding":{}},
    {"width":219,"height":138,
     "title":{"text":"Duration fof Sec5 and Exo70 together","fontSize":20,"offset":14,"dx":-15,"anchor":"middle","frame":"group"},
     "layer":[
      {"layer":[
       {"data":{"name":"fit2"},
        "mark":{"type":"area","color":"#fcf59b","interpolate":"monotone"},
        "encoding":{"x":{"field":"x","type":"quantitative","scale":{"domain":[0,60],"nice":false},"axis":{"offset":22,"values":[0,10,20,30,40,50,60],"tickSize":6,"labelFontSize":18,"title":"Time [s]","titleFontSize":19,"titlePadding":8}},
         "y":{"field":"f","type":"quantitative","scale":{"domain":[0,40],"nice":false},"axis":{"orient":"left","offset":23,"values":[0,20,40],"tickSize":6,"labelFontSize":16,"labelPadding":0,"title":"Number of values","titleFontSize":20,"titlePadding":1}}}},
       {"data":{"values":[{"t":0,"n":15},{"t":4,"n":23},{"t":8,"n":30},{"t":12,"n":31},{"t":16,"n":21},{"t":20,"n":13},{"t":24,"n":12},{"t":28,"n":8},{"t":32,"n":7},{"t":36,"n":5},{"t":40,"n":4},{"t":44,"n":2},{"t":48,"n":1},{"t":52,"n":1},{"t":56,"n":1}]},
        "mark":{"type":"bar","size":8,"fill":"#707070","stroke":"#000","strokeWidth":1},
        "encoding":{"x":{"field":"t","type":"quantitative"},"y":{"field":"n","type":"quantitative","axis":{"orient":"left","offset":23,"values":[10,30],"domain":false,"tickSize":6,"labelFontSize":16,"labelPadding":0,"title":null}}}},
       {"data":{"name":"fit2"},
        "mark":{"type":"line","color":"#000","strokeWidth":1.5,"interpolate":"monotone"},
        "encoding":{"x":{"field":"x","type":"quantitative"},"y":{"field":"f","type":"quantitative","axis":null}}}
      ],
      "resolve":{"axis":{"y":"independent"}}},
      {"data":{"values":[{"ct":0,"cv":3},{"ct":2,"cv":10},{"ct":4,"cv":20},{"ct":6,"cv":33},{"ct":8,"cv":50},{"ct":10,"cv":75},{"ct":12,"cv":92},{"ct":14,"cv":103},{"ct":16,"cv":112},{"ct":18,"cv":120},{"ct":20,"cv":128},{"ct":22,"cv":137},{"ct":24,"cv":143},{"ct":27,"cv":150},{"ct":30,"cv":156},{"ct":34,"cv":162},{"ct":38,"cv":167},{"ct":42,"cv":170},{"ct":46,"cv":173},{"ct":50,"cv":174},{"ct":56,"cv":176}]},
       "layer":[
        {"mark":{"type":"area","color":"#fffbc6"},
         "encoding":{"x":{"field":"ct","type":"quantitative","scale":{"domain":[0,56],"range":[107,205],"nice":false},"axis":{"orient":"bottom","offset":-84,"values":[0,15,30,45],"labelFontSize":11,"tickSize":3,"tickWidth":1,"domainWidth":1,"labelPadding":1,"title":null}},
          "y":{"field":"cv","type":"quantitative","scale":{"domain":[0,200],"range":[54,-4],"nice":false},"axis":{"orient":"left","offset":-107,"values":[0,50,100,150,200],"labelFontSize":11,"tickSize":3,"tickWidth":1,"domainWidth":1,"labelPadding":1,"title":"# values","titleFontSize":11,"titlePadding":2}}}},
        {"mark":{"type":"line","color":"#000","strokeWidth":1.3},
         "encoding":{"x":{"field":"ct","type":"quantitative"},"y":{"field":"cv","type":"quantitative"}}}
       ]}
     ],
     "resolve":{"scale":{"x":"independent","y":"independent"},"axis":{"x":"independent","y":"independent"}}}
   ]},
   {"spacing":0,"vconcat":[
    {"width":1,"height":1,"data":{"values":[{}]},"mark":{"type":"point","opacity":0,"size":1},"encoding":{}},
    {"spacing":-3,
     "title":{"text":"d","anchor":"start","frame":"bounds","fontSize":22,"dx":-35,"offset":3},
     "vconcat":[
      {"width":248,"height":71,
       "layer":[
        {"data":{"name":"viol"},"transform":[{"filter":"datum.g == 'Sec5.Exo70'"}],
         "mark":{"type":"area","fill":"#c9eac2","stroke":"#5cb85c","strokeWidth":1.3,"interpolate":"monotone"},
         "encoding":{"x":{"field":"t","type":"quantitative","scale":{"domain":[0,60],"nice":false},"axis":null},
          "y":{"field":"w","type":"quantitative","scale":{"domain":[-1.22,1.22],"nice":false},"axis":{"values":[0],"labels":false,"domain":false,"tickSize":6,"offset":15,"title":"Sec5.Exo70","titleAngle":0,"titleAlign":"right","titleBaseline":"middle","titleX":-10,"titleY":35.5,"titleFontSize":18}},
          "y2":{"field":"lo"}}},
        {"data":{"name":"dstat"},"transform":[{"filter":"datum.g == 'Sec5.Exo70'"}],
         "layer":[
          {"mark":{"type":"rule","strokeWidth":1.5,"color":"#000"},"encoding":{"x":{"field":"mn","type":"quantitative"},"x2":{"field":"mx"},"y":{"datum":0}}},
          {"mark":{"type":"rule","strokeWidth":6,"color":"#000"},"encoding":{"x":{"field":"q1","type":"quantitative"},"x2":{"field":"q3"},"y":{"datum":0}}},
          {"mark":{"type":"point","filled":true,"color":"#fff","size":28,"opacity":1},"encoding":{"x":{"field":"md","type":"quantitative"},"y":{"datum":0}}},
          {"mark":{"type":"rule","strokeWidth":1.5,"color":"#000"},"encoding":{"x":{"datum":-3.6},"y":{"datum":0},"y2":{"datum":-1.22}}},
          {"mark":{"type":"rule","strokeWidth":1.5,"color":"#000"},"encoding":{"x":{"datum":60},"y":{"datum":0},"y2":{"datum":-1.22}}}
         ]}
       ]},
      {"width":248,"height":71,
       "layer":[
        {"data":{"name":"viol"},"transform":[{"filter":"datum.g == 'Sec5.Sec8'"}],
         "mark":{"type":"area","fill":"#c9eac2","stroke":"#5cb85c","strokeWidth":1.3,"interpolate":"monotone"},
         "encoding":{"x":{"field":"t","type":"quantitative","scale":{"domain":[0,60],"nice":false},"axis":null},
          "y":{"field":"w","type":"quantitative","scale":{"domain":[-1.22,1.22],"nice":false},"axis":{"values":[0],"labels":false,"domain":false,"tickSize":6,"offset":15,"title":"Sec5.Sec8","titleAngle":0,"titleAlign":"right","titleBaseline":"middle","titleX":-10,"titleY":35.5,"titleFontSize":18}},
          "y2":{"field":"lo"}}},
        {"data":{"name":"dstat"},"transform":[{"filter":"datum.g == 'Sec5.Sec8'"}],
         "layer":[
          {"mark":{"type":"rule","strokeWidth":1.5,"color":"#000"},"encoding":{"x":{"field":"mn","type":"quantitative"},"x2":{"field":"mx"},"y":{"datum":0}}},
          {"mark":{"type":"rule","strokeWidth":6,"color":"#000"},"encoding":{"x":{"field":"q1","type":"quantitative"},"x2":{"field":"q3"},"y":{"datum":0}}},
          {"mark":{"type":"point","filled":true,"color":"#fff","size":28,"opacity":1},"encoding":{"x":{"field":"md","type":"quantitative"},"y":{"datum":0}}},
          {"mark":{"type":"rule","strokeWidth":1.5,"color":"#000"},"encoding":{"x":{"datum":-3.6},"y":{"datum":1.22},"y2":{"datum":-1.22}}},
          {"mark":{"type":"rule","strokeWidth":1.5,"color":"#000"},"encoding":{"x":{"datum":60},"y":{"datum":1.22},"y2":{"datum":-1.22}}},
          {"mark":{"type":"text","text":"n.s.","align":"left","dx":7,"fontSize":16,"color":"#000"},"encoding":{"x":{"datum":60},"y":{"datum":0}}}
         ]}
       ]},
      {"width":248,"height":71,
       "layer":[
        {"data":{"name":"viol"},"transform":[{"filter":"datum.g == 'Rab11'"}],
         "mark":{"type":"area","fill":"#c9eac2","stroke":"#5cb85c","strokeWidth":1.3,"interpolate":"monotone"},
         "encoding":{"x":{"field":"t","type":"quantitative","scale":{"domain":[0,60],"nice":false},"axis":{"values":[0,10,20,30,40,50,60],"offset":9,"tickSize":6,"labelFontSize":18,"title":"Time [s]","titleFontSize":18,"titlePadding":6}},
          "y":{"field":"w","type":"quantitative","scale":{"domain":[-1.22,1.22],"nice":false},"axis":{"values":[0],"labels":false,"domain":false,"tickSize":6,"offset":15,"title":"Rab11","titleAngle":0,"titleAlign":"right","titleBaseline":"middle","titleX":-10,"titleY":35.5,"titleFontSize":18}},
          "y2":{"field":"lo"}}},
        {"data":{"name":"dstat"},"transform":[{"filter":"datum.g == 'Rab11'"}],
         "layer":[
          {"mark":{"type":"rule","strokeWidth":1.5,"color":"#000"},"encoding":{"x":{"field":"mn","type":"quantitative"},"x2":{"field":"mx"},"y":{"datum":0}}},
          {"mark":{"type":"rule","strokeWidth":6,"color":"#000"},"encoding":{"x":{"field":"q1","type":"quantitative"},"x2":{"field":"q3"},"y":{"datum":0}}},
          {"mark":{"type":"point","filled":true,"color":"#fff","size":28,"opacity":1},"encoding":{"x":{"field":"md","type":"quantitative"},"y":{"datum":0}}},
          {"mark":{"type":"rule","strokeWidth":1.5,"color":"#000"},"encoding":{"x":{"datum":-3.6},"y":{"datum":1.22},"y2":{"datum":0}}},
          {"mark":{"type":"rule","strokeWidth":1.5,"color":"#000"},"encoding":{"x":{"datum":60},"y":{"datum":1.22},"y2":{"datum":-0.25}}}
         ]}
       ]}
     ]}
   ]}
  ]}
 ]}
]}
]}
